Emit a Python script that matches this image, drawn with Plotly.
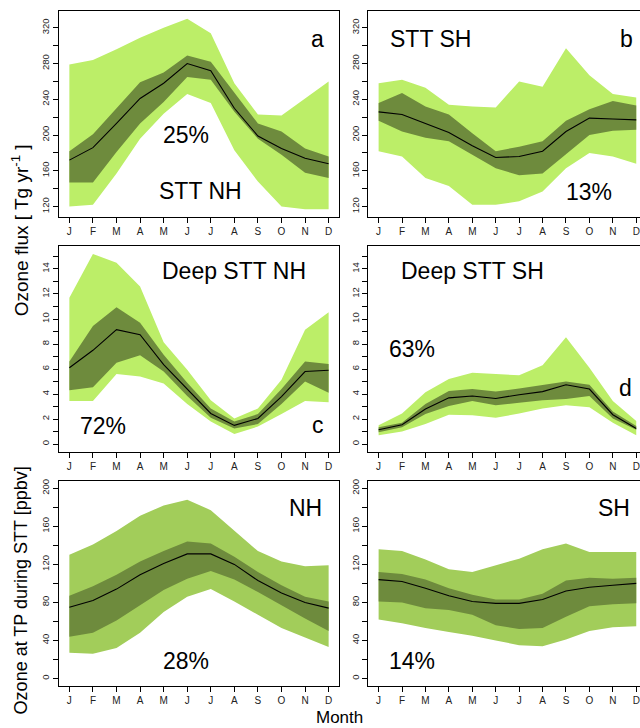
import plotly.graph_objects as go

# Month positions and labels
months = list(range(1, 13))
month_labels = ["J", "F", "M", "A", "M", "J", "J", "A", "S", "O", "N", "D"]

# (a) STT flux, NH [Tg/yr]
a_med = [172, 186, 213, 241, 258, 280, 272, 230, 199, 185, 174, 168]
a_q_hi = [182, 201, 230, 259, 270, 289, 282, 248, 213, 204, 185, 176]
a_q_lo = [147, 147, 181, 213, 237, 265, 262, 226, 196, 178, 158, 152]
a_r_hi = [279, 284, 296, 309, 320, 330, 314, 258, 223, 222, 241, 260]
a_r_lo = [120, 122, 157, 196, 224, 246, 236, 183, 148, 120, 117, 117]

# (b) STT flux, SH [Tg/yr]
b_med = [226, 223, 213, 203, 188, 175, 176, 182, 204, 219, 218, 217]
b_q_hi = [236, 247, 232, 223, 202, 182, 187, 193, 216, 229, 238, 233]
b_q_lo = [216, 204, 197, 193, 178, 163, 155, 157, 178, 200, 205, 206]
b_r_hi = [258, 262, 253, 234, 232, 231, 260, 254, 297, 267, 246, 242]
b_r_lo = [182, 176, 152, 143, 122, 122, 126, 137, 163, 180, 176, 168]

# (c) Deep STT flux, NH [Tg/yr]
c_med = [6.1, 7.5, 9.15, 8.75, 6.35, 4.4, 2.45, 1.5, 2.05, 3.8, 5.8, 5.9]
c_q_hi = [6.6, 9.45, 10.95, 9.7, 7.15, 4.9, 2.85, 1.8, 2.4, 4.4, 6.6, 6.4]
c_q_lo = [4.3, 4.55, 6.5, 7.1, 5.8, 3.85, 2.1, 1.25, 1.6, 3.2, 5.0, 4.1]
c_r_hi = [11.7, 15.2, 14.5, 12.6, 8.15, 5.95, 3.5, 2.05, 2.85, 5.15, 9.15, 10.55]
c_r_lo = [3.45, 3.45, 5.6, 5.4, 4.85, 3.2, 1.8, 0.8, 1.4, 2.4, 3.45, 3.35]

# (d) Deep STT flux, SH [Tg/yr]
d_med = [1.15, 1.55, 2.8, 3.7, 3.85, 3.65, 3.95, 4.2, 4.75, 4.4, 2.35, 1.25]
d_q_hi = [1.35, 1.7, 3.2, 4.25, 4.4, 4.2, 4.45, 4.75, 5.0, 4.75, 2.6, 1.45]
d_q_lo = [0.95, 1.35, 2.4, 3.05, 3.45, 3.1, 3.3, 3.5, 3.6, 3.85, 2.05, 1.15]
d_r_hi = [1.5, 2.45, 4.15, 5.2, 5.7, 5.6, 5.5, 6.3, 8.55, 6.1, 3.45, 1.85]
d_r_lo = [0.7, 1.0, 1.6, 2.35, 2.3, 2.1, 2.45, 2.85, 3.1, 2.95, 1.7, 0.7]

# (e) Ozone at the tropopause during STT, NH [ppbv]
e_med = [75, 82, 94, 109, 121, 131, 131, 120, 103, 90, 80, 74]
e_q_hi = [87, 97, 109, 123, 134, 144, 142, 128, 112, 98, 86, 81]
e_q_lo = [44, 48, 61, 77, 93, 105, 113, 104, 91, 77, 63, 50]
e_r_hi = [130, 141, 155, 171, 182, 188, 177, 155, 134, 123, 118, 119]
e_r_lo = [27, 26, 32, 48, 70, 86, 94, 81, 67, 53, 43, 33]

# (f) Ozone at the tropopause during STT, SH [ppbv]
f_med = [104, 102, 95, 87, 81, 79, 79, 83, 92, 96, 98, 100]
f_q_hi = [112, 110, 104, 95, 88, 83, 83, 89, 103, 106, 105, 106]
f_q_lo = [81, 80, 74, 72, 67, 56, 52, 53, 65, 76, 78, 79]
f_r_hi = [136, 134, 125, 115, 112, 119, 126, 136, 142, 133, 133, 133]
f_r_lo = [62, 58, 53, 49, 45, 40, 35, 34, 41, 50, 54, 55]

# Y tick values: labelled ticks and the unlabelled ones between them
flux_labels = [120, 160, 200, 240, 280, 320]
flux_minor = [140, 180, 220, 260, 300]
deep_labels = [0, 2, 4, 6, 8, 10, 12, 14]
deep_minor = [1, 3, 5, 7, 9, 11, 13, 15]
tp_labels = [0, 40, 80, 120, 160, 200]
tp_minor = [20, 60, 100, 140, 180]

# Range-band colours
LIGHT = "#BCEE68"      # darkolivegreen2
LIGHT_TP = "#A2CD5A"   # darkolivegreen3
DARK = "#6E8B3D"       # darkolivegreen4

FONT = "Liberation Sans, Arial, Helvetica, sans-serif"
W, H = 640, 728

panels = [
    # (xaxis id, yaxis id, data, outer colour)
    ("x", "y", (a_med, a_q_hi, a_q_lo, a_r_hi, a_r_lo), LIGHT),
    ("x2", "y2", (b_med, b_q_hi, b_q_lo, b_r_hi, b_r_lo), LIGHT),
    ("x3", "y3", (c_med, c_q_hi, c_q_lo, c_r_hi, c_r_lo), LIGHT),
    ("x4", "y4", (d_med, d_q_hi, d_q_lo, d_r_hi, d_r_lo), LIGHT),
    ("x5", "y5", (e_med, e_q_hi, e_q_lo, e_r_hi, e_r_lo), LIGHT_TP),
    ("x6", "y6", (f_med, f_q_hi, f_q_lo, f_r_hi, f_r_lo), LIGHT_TP),
]

fig = go.Figure()
band_x = months + months[::-1]
for xa, ya, (med, qhi, qlo, rhi, rlo), outer in panels:
    fig.add_trace(go.Scatter(x=band_x, y=rhi + rlo[::-1], fill="toself",
                             fillcolor=outer, line=dict(width=0),
                             mode="lines", hoverinfo="skip",
                             xaxis=xa, yaxis=ya, showlegend=False))
    fig.add_trace(go.Scatter(x=band_x, y=qhi + qlo[::-1], fill="toself",
                             fillcolor=DARK, line=dict(width=0),
                             mode="lines", hoverinfo="skip",
                             xaxis=xa, yaxis=ya, showlegend=False))
    fig.add_trace(go.Scatter(x=months, y=med, mode="lines",
                             line=dict(color="black", width=1.1),
                             xaxis=xa, yaxis=ya, showlegend=False))


def px_x(p):
    return p / W


def px_y(p):
    return 1 - p / H


left_dom = [px_x(59), px_x(339)]
right_dom = [px_x(368.3), 1.0]
row_doms = [
    [px_y(215.5), px_y(9.3)],
    [px_y(451), px_y(245)],
    [px_y(686), px_y(480)],
]

y_ranges = [[108.5, 338.5], [-0.61, 15.81], [-8, 208]]
y_ticks = [(flux_labels, flux_minor), (deep_labels, deep_minor),
           (tp_labels, tp_minor)]

axis_common = dict(showgrid=False, zeroline=False, showline=True,
                   linecolor="black", linewidth=1, ticks="outside",
                   ticklen=5, tickcolor="black", tickwidth=1)

layout = {}
for i in range(6):
    row, col = divmod(i, 2)
    suffix = "" if i == 0 else str(i + 1)
    major, minor = y_ticks[row]
    xdom = left_dom if col == 0 else right_dom
    xrange_ = [0.56, 12.44] if col == 0 else [0.56, 12.16]
    layout["xaxis" + suffix] = dict(
        axis_common, domain=xdom, range=xrange_, anchor="y" + suffix,
        tickvals=months, ticktext=month_labels, mirror=True,
        tickfont=dict(family=FONT, size=10, color="#222"))
    layout["yaxis" + suffix] = dict(
        axis_common, domain=row_doms[row], range=y_ranges[row],
        anchor="x" + suffix, tickvals=major,
        ticktext=[str(v) for v in major],
        minor=dict(tickvals=minor, ticks="outside", ticklen=5,
                   tickcolor="black", tickwidth=1, showgrid=False),
        mirror=(col == 0), tickangle=-90,
        tickfont=dict(family=FONT, size=9.5, color="#222"))

fig.update_layout(**layout)


def label(text, x, y, size=23, angle=0):
    return dict(text=text, x=px_x(x), y=px_y(y), xref="paper", yref="paper",
                showarrow=False, textangle=angle, xanchor="center",
                yanchor="middle", font=dict(family=FONT, size=size, color="black"))


annotations = [
    label("a", 317, 37), label("25%", 186, 133), label("STT NH", 200, 190),
    label("STT SH", 430, 37), label("b", 626, 37), label("13%", 589, 191),
    label("Deep STT NH", 234, 270), label("72%", 103, 425), label("c", 318, 424),
    label("Deep STT SH", 472, 270), label("63%", 412, 348), label("d", 625, 387),
    label("NH", 305, 507), label("28%", 186, 661),
    label("SH", 614, 507), label("14%", 412, 661),
    label("Ozone flux [ Tg yr<sup>-1</sup> ]", 20, 229, size=19, angle=-90),
    label("Ozone at TP during STT [ppbv]", 21, 590, size=18, angle=-90),
    label("Month", 339, 717, size=17),
]

fig.update_layout(
    width=W, height=H, margin=dict(l=0, r=0, t=0, b=0),
    paper_bgcolor="white", plot_bgcolor="white",
    annotations=annotations, showlegend=False,
    font=dict(family=FONT),
)

fig.write_html("out.html", config={"displayModeBar": False})
